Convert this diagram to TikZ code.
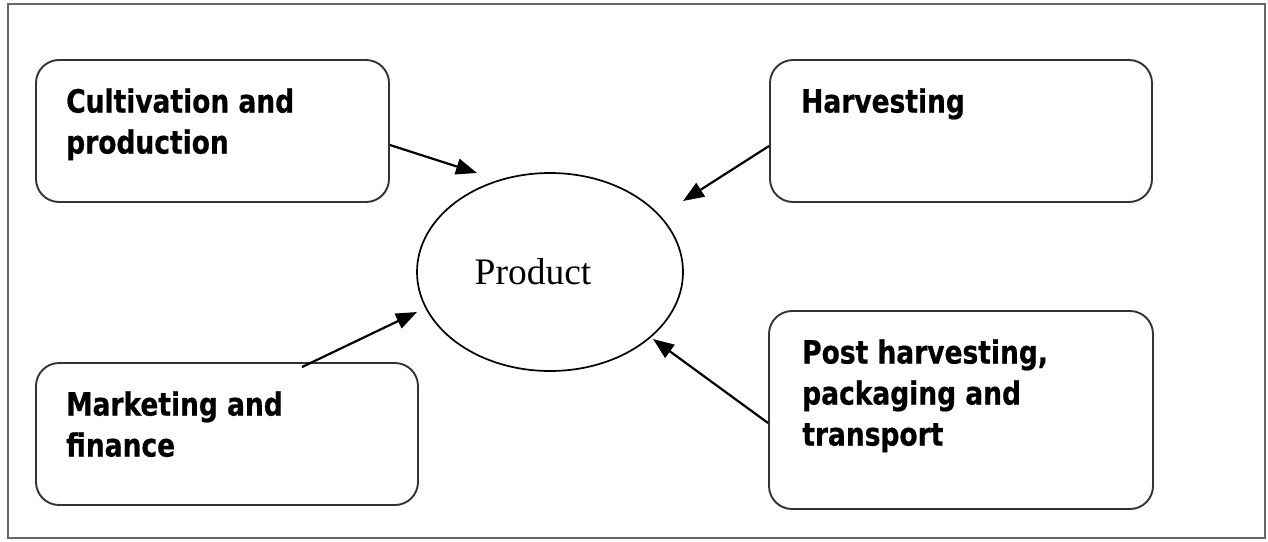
\documentclass[tikz,border=0pt]{standalone}
\usepackage{fontspec}
\setmainfont{Liberation Serif}
\newfontfamily\boxfont{DejaVu Sans Condensed}[FakeStretch=0.92,
  BoldFeatures={FakeBold=0.6}]
\usetikzlibrary{shapes.geometric,arrows.meta,calc}

\begin{document}
\begin{tikzpicture}[x=1pt,y=-1pt,
  frame/.style={draw=black!60, line width=2pt},
  stage/.style={draw=black!80, line width=1.9pt, rounded corners=23pt,
    rectangle, inner sep=0pt},
  stagetext/.style={anchor=north west, inner sep=0pt, align=left,
    font=\boxfont\bfseries\fontsize{32}{41}\selectfont},
  hub/.style={draw=black, line width=1.7pt, ellipse, inner sep=0pt},
  feed/.style={line width=2.2pt, -{Triangle[length=21pt,width=16pt]}}
]
\useasboundingbox (0,0) rectangle (1268,541);

% outer frame
\draw[frame] (8,4) rectangle (1265,538);

% central product
\node[hub, minimum width=266pt, minimum height=198pt] (prod) at (550,272) {};
\node[font=\fontsize{37.5}{40}\selectfont, inner sep=0pt] (prodlbl)
  at ([xshift=-17pt]prod.center) {Product};

% the four stages
\node[stage, minimum width=353pt, minimum height=142pt] (cult) at (212.5,131) {};
\node[stage, minimum width=382pt, minimum height=142pt] (harv) at (961,131) {};
\node[stage, minimum width=382pt, minimum height=142pt] (mark) at (227,434) {};
\node[stage, minimum width=384pt, minimum height=198pt] (post) at (961,410) {};

\node[stagetext] (cultlbl) at ($(cult.north west)+(31,29)$)
  {Cultivation and\\production};
\node[stagetext] (harvlbl) at ($(harv.north west)+(32,29)$) {Harvesting};
\node[stagetext] (marklbl) at ($(mark.north west)+(31,29)$)
  {Marketing and\\finance};
\node[stagetext] (postlbl) at ($(post.north west)+(34,29)$)
  {Post harvesting,\\packaging and\\transport};

% arrow tips near the product
\coordinate (tipcult) at (477,173);
\coordinate (tipharv) at (683,201);
\coordinate (tipmark) at (417,312);
\coordinate (tippost) at (653,339);

\draw[feed] ([yshift=-14pt]cult.east) -- (tipcult);
\draw[feed] ([yshift=-15pt]harv.west) -- (tipharv);
\draw[feed] ([xshift=75pt,yshift=-5pt]mark.north) -- (tipmark);
\draw[feed] ([yshift=-13pt]post.west) -- (tippost);
\end{tikzpicture}
\end{document}
